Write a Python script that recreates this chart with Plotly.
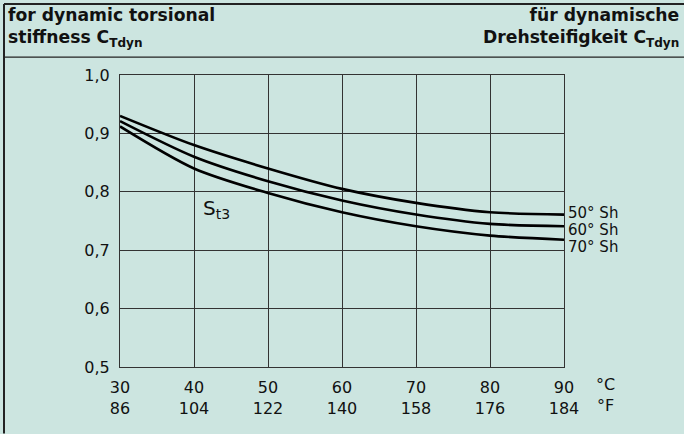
import plotly.graph_objects as go

temp_c = [30, 40, 50, 60, 70, 80, 90]
temp_f = [86, 104, 122, 140, 158, 176, 184]
sh50 = [0.930, 0.880, 0.840, 0.805, 0.781, 0.765, 0.761]
sh60 = [0.921, 0.860, 0.818, 0.785, 0.761, 0.745, 0.741]
sh70 = [0.912, 0.840, 0.798, 0.765, 0.741, 0.725, 0.718]
series_names = ["50° Sh", "60° Sh", "70° Sh"]
label_px_y = [212.5, 229.5, 246.5]
y_ticks = [0.5, 0.6, 0.7, 0.8, 0.9, 1.0]
y_ticktext = ["0,5", "0,6", "0,7", "0,8", "0,9", "1,0"]

BG = "#cce5e0"
W, H = 684, 434
L, R, T, B = 120, 120, 75, 66.5
PW, PH = W - L - R, H - T - B

def px(x):
    return (x - L) / PW

def py(y):
    return (H - B - y) / PH

fig = go.Figure()
for name, ys, ly in zip(series_names, [sh50, sh60, sh70], label_px_y):
    fig.add_trace(go.Scatter(x=temp_c, y=ys, mode="lines", name=name,
                             line=dict(color="black", width=2.6, shape="spline", smoothing=0.8),
                             showlegend=False, hoverinfo="skip"))
    fig.add_annotation(x=px(566), y=py(ly), xref="paper", yref="paper", text=name, showarrow=False,
                       xanchor="left", yanchor="middle", height=15,
                       font=dict(family="DejaVu Sans", size=15, color="#111"))

fig.add_annotation(x=px(201), y=py(209), xref="paper", yref="paper",
                   text="S<sub>t3</sub>", showarrow=False, xanchor="left", yanchor="middle",
                   font=dict(family="DejaVu Sans", size=20, color="#111"))

fig.add_annotation(x=px(594), y=py(396), xref="paper", yref="paper",
                   text="°C<br>°F", showarrow=False, xanchor="left", yanchor="middle",
                   font=dict(family="DejaVu Sans", size=16, color="#111"))

hdr_font = dict(family="DejaVu Sans", size=17.2, color="#111")
fig.add_annotation(x=px(6), y=py(27), xref="paper", yref="paper",
                   text="<b>for dynamic torsional<br>stiffness C<sub>Tdyn</sub></b>",
                   showarrow=False, xanchor="left", yanchor="middle", align="left", font=hdr_font)
fig.add_annotation(x=px(681), y=py(27), xref="paper", yref="paper",
                   text="<b>für dynamische<br>Drehsteifigkeit C<sub>Tdyn</sub></b>",
                   showarrow=False, xanchor="right", yanchor="middle", align="right", font=hdr_font)

border = dict(color="#222", width=2)
fig.add_shape(type="line", xref="paper", yref="paper", x0=px(4), x1=px(684), y0=py(4), y1=py(4), line=border)
fig.add_shape(type="line", xref="paper", yref="paper", x0=px(4), x1=px(4), y0=py(4), y1=py(434), line=border)
fig.add_shape(type="line", xref="paper", yref="paper", x0=px(4), x1=px(684), y0=py(57), y1=py(57),
              line=dict(color="#222", width=1.2))

fig.update_layout(
    width=W, height=H, margin=dict(l=L, r=R, t=T, b=B),
    paper_bgcolor=BG, plot_bgcolor=BG,
    xaxis=dict(range=[30, 90], tickvals=temp_c,
               ticktext=[f"{c}<br>{f}" for c, f in zip(temp_c, temp_f)],
               showgrid=True, gridcolor="#333", gridwidth=1,
               showline=True, linecolor="#333", linewidth=1.2, mirror=True,
               zeroline=False, ticks="", ticklen=0, ticklabelstandoff=6,
               tickfont=dict(family="DejaVu Sans", size=16, color="#111")),
    yaxis=dict(range=[0.5, 1.0], tickvals=y_ticks, ticktext=y_ticktext,
               showgrid=True, gridcolor="#333", gridwidth=1,
               showline=True, linecolor="#333", linewidth=1.2, mirror=True,
               zeroline=False, ticks="", ticklen=0, ticklabelstandoff=6,
               tickfont=dict(family="DejaVu Sans", size=16, color="#111")),
)

fig.write_html("out.html", config={"displayModeBar": False},
               post_script="document.body.style.margin='0';")
